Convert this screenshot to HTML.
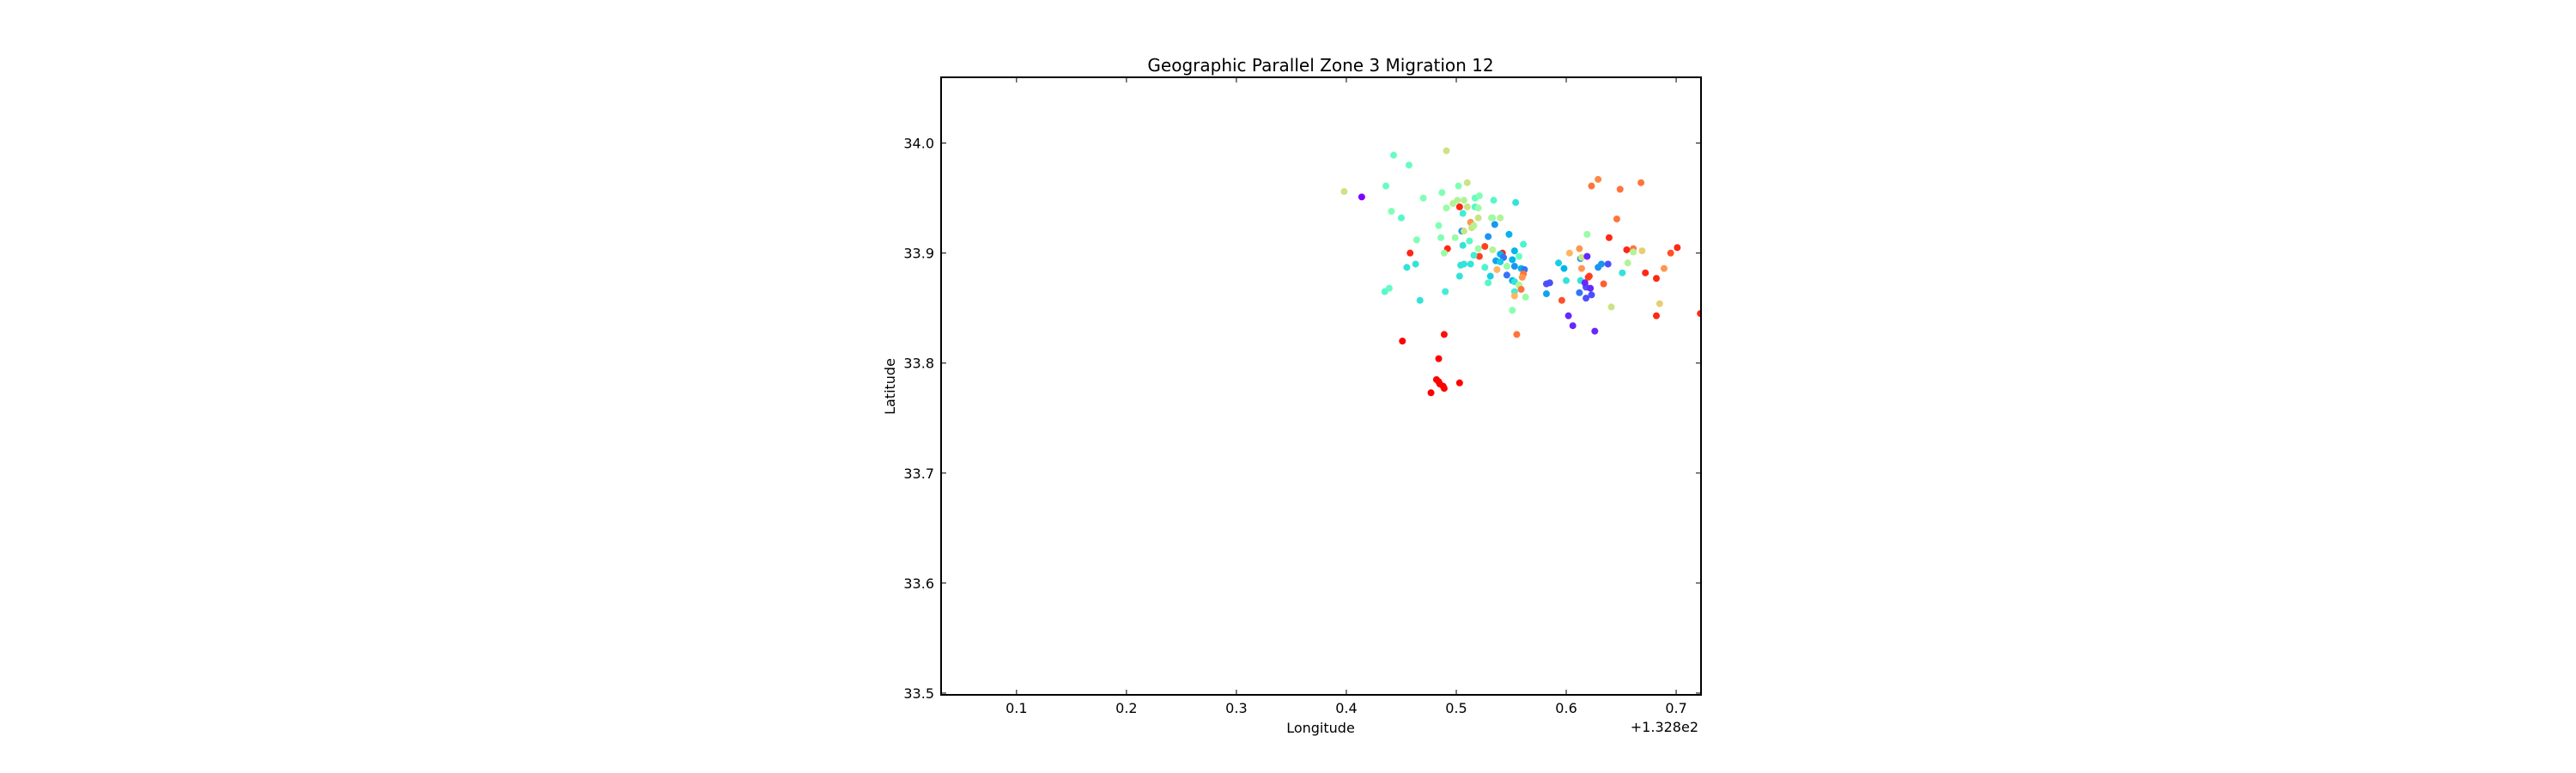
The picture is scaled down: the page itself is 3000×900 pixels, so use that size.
<!DOCTYPE html>
<html><head><meta charset="utf-8"><style>
html,body{margin:0;padding:0;background:#fff;}
svg{display:block;font-family:"DejaVu Sans","Liberation Sans",sans-serif;}
</style></head><body>
<svg id="chart" width="3000" height="900" viewBox="0 0 3000 900" xmlns="http://www.w3.org/2000/svg">
<defs><clipPath id="clip"><rect x="1096" y="90" width="885" height="719"/></clipPath></defs>
<rect x="0" y="0" width="3000" height="900" fill="#fff"/>
<text x="1538" y="83" font-size="20" text-anchor="middle">Geographic Parallel Zone 3 Migration 12</text>
<g id="points" clip-path="url(#clip)"></g>
<g id="axes"></g>
<rect x="1096" y="90" width="885" height="719" fill="none" stroke="#000" stroke-width="2"/>
<text x="1538" y="853" font-size="16" text-anchor="middle">Longitude</text>
<text x="1978" y="852" font-size="16" text-anchor="end">+1.328e2</text>
<text transform="translate(1042,450) rotate(-90)" font-size="16" text-anchor="middle">Latitude</text>
</svg>
<script>
const xTicks = [0.1,0.2,0.3,0.4,0.5,0.6,0.7];
const xTickLabels = ["0.1","0.2","0.3","0.4","0.5","0.6","0.7"];
const yTicks = [33.5,33.6,33.7,33.8,33.9,34.0];
const yTickLabels = ["33.5","33.6","33.7","33.8","33.9","34.0"];
const lonOffset = [0.398,0.414,0.443,0.457,0.436,0.441,0.450,0.491,0.470,0.487,0.502,0.510,0.497,0.501,0.507,0.510,0.503,0.491,0.506,0.517,0.521,0.517,0.520,0.534,0.554,0.484,0.486,0.464,0.505,0.507,0.513,0.514,0.516,0.520,0.532,0.533,0.540,0.499,0.512,0.520,0.529,0.535,0.548,0.561,0.492,0.506,0.526,0.521,0.458,0.489,0.516,0.533,0.542,0.540,0.536,0.543,0.553,0.557,0.551,0.455,0.463,0.504,0.507,0.513,0.526,0.537,0.540,0.546,0.553,0.559,0.562,0.503,0.531,0.546,0.551,0.553,0.561,0.560,0.529,0.557,0.559,0.553,0.553,0.563,0.490,0.435,0.439,0.467,0.551,0.555,0.451,0.489,0.484,0.482,0.484,0.485,0.488,0.489,0.477,0.503,0.582,0.585,0.582,0.593,0.598,0.600,0.596,0.602,0.606,0.603,0.612,0.613,0.614,0.619,0.614,0.613,0.612,0.618,0.618,0.617,0.622,0.623,0.620,0.621,0.619,0.626,0.623,0.629,0.629,0.632,0.634,0.638,0.639,0.641,0.646,0.649,0.651,0.655,0.656,0.661,0.661,0.668,0.669,0.672,0.682,0.682,0.685,0.689,0.695,0.701,0.722];
const latitudes = [33.956,33.951,33.989,33.980,33.961,33.938,33.932,33.993,33.950,33.955,33.961,33.964,33.945,33.948,33.948,33.942,33.942,33.941,33.936,33.950,33.952,33.942,33.941,33.948,33.946,33.925,33.914,33.912,33.920,33.920,33.928,33.923,33.925,33.932,33.932,33.932,33.932,33.914,33.911,33.904,33.915,33.926,33.917,33.908,33.904,33.907,33.906,33.897,33.900,33.900,33.898,33.903,33.900,33.899,33.893,33.896,33.902,33.897,33.894,33.887,33.890,33.889,33.890,33.890,33.887,33.885,33.892,33.888,33.888,33.886,33.885,33.879,33.879,33.880,33.875,33.874,33.881,33.878,33.873,33.871,33.867,33.865,33.861,33.860,33.865,33.865,33.868,33.857,33.848,33.826,33.820,33.826,33.804,33.785,33.783,33.781,33.779,33.777,33.773,33.782,33.872,33.873,33.863,33.891,33.886,33.875,33.857,33.843,33.834,33.900,33.904,33.895,33.896,33.897,33.886,33.875,33.864,33.869,33.859,33.873,33.868,33.862,33.878,33.879,33.917,33.829,33.961,33.967,33.887,33.890,33.872,33.890,33.914,33.851,33.931,33.958,33.882,33.903,33.891,33.904,33.901,33.964,33.902,33.882,33.877,33.843,33.854,33.886,33.900,33.905,33.845];
const colorValues = [0.65,0,0.45,0.45,0.45,0.5,0.42,0.65,0.5,0.5,0.5,0.65,0.6,0.6,0.6,0.65,0.95,0.55,0.38,0.45,0.5,0.42,0.55,0.42,0.35,0.5,0.5,0.5,0.2,0.65,0.8,0.65,0.6,0.65,0.6,0.55,0.6,0.55,0.42,0.55,0.2,0.2,0.25,0.4,0.95,0.35,0.92,0.92,0.95,0.55,0.38,0.6,0.95,0.25,0.22,0.15,0.25,0.45,0.25,0.35,0.35,0.35,0.35,0.35,0.4,0.75,0.3,0.55,0.2,0.25,0.15,0.35,0.3,0.15,0.25,0.35,0.85,0.8,0.42,0.6,0.85,0.38,0.75,0.55,0.38,0.42,0.45,0.35,0.52,0.85,1,0.98,1,1,1,1,1,1,1,1,0.1,0.1,0.22,0.3,0.25,0.35,0.9,0.05,0.05,0.75,0.8,0.2,0.65,0.05,0.8,0.35,0.15,0.1,0.1,0.05,0.05,0.1,0.92,0.92,0.55,0.05,0.85,0.82,0.2,0.2,0.88,0.1,0.95,0.65,0.85,0.85,0.35,0.95,0.6,0.85,0.6,0.85,0.7,0.95,0.95,0.95,0.7,0.8,0.9,0.95,0.95];

const X0=1096,X1=1981,Y0=90,Y1=809;
const xMin=0.0314,xMax=0.7226,yMin=33.4984,yMax=34.0598;
const NS="http://www.w3.org/2000/svg";
function sx(v){return X0+(v-xMin)/(xMax-xMin)*(X1-X0);}
function sy(v){return Y1-(v-yMin)/(yMax-yMin)*(Y1-Y0);}
function rainbow(t){
  const r=Math.min(1,Math.abs(2*t-0.5)), g=Math.sin(Math.PI*t), b=Math.cos(Math.PI*t/2);
  const h=v=>Math.round(Math.max(0,Math.min(1,v))*255);
  return `rgb(${h(r)},${h(g)},${h(b)})`;
}
function mk(tag,attrs,parent){const e=document.createElementNS(NS,tag);for(const k in attrs)e.setAttribute(k,attrs[k]);parent.appendChild(e);return e;}
const axes=document.getElementById('axes');
xTicks.forEach((v,i)=>{
  const x=sx(v);
  const t1=mk('line',{x1:x,x2:x,y1:Y1,y2:Y1-6,stroke:'#000','stroke-width':1},axes);
  
  
  const t2=mk('line',{x1:x,x2:x,y1:Y0,y2:Y0+6,stroke:'#000','stroke-width':1},axes);
  
  
  const tx=mk('text',{x:x,y:830,'font-size':16,'text-anchor':'middle'},axes);
  tx.textContent=xTickLabels[i];
  
  
});
yTicks.forEach((v,i)=>{
  const y=sy(v);
  const t1=mk('line',{x1:X0,x2:X0+6,y1:y,y2:y,stroke:'#000','stroke-width':1},axes);
  
  
  const t2=mk('line',{x1:X1,x2:X1-6,y1:y,y2:y,stroke:'#000','stroke-width':1},axes);
  
  
  const tx=mk('text',{x:1088,y:y+6,'font-size':16,'text-anchor':'end'},axes);
  tx.textContent=yTickLabels[i];
  
  
});
const pts=document.getElementById('points');
lonOffset.forEach((lon,i)=>{
  const c=mk('circle',{cx:sx(lon),cy:sy(latitudes[i]),r:4,fill:rainbow(colorValues[i])},pts);
  
  
});
</script>
</body></html>
